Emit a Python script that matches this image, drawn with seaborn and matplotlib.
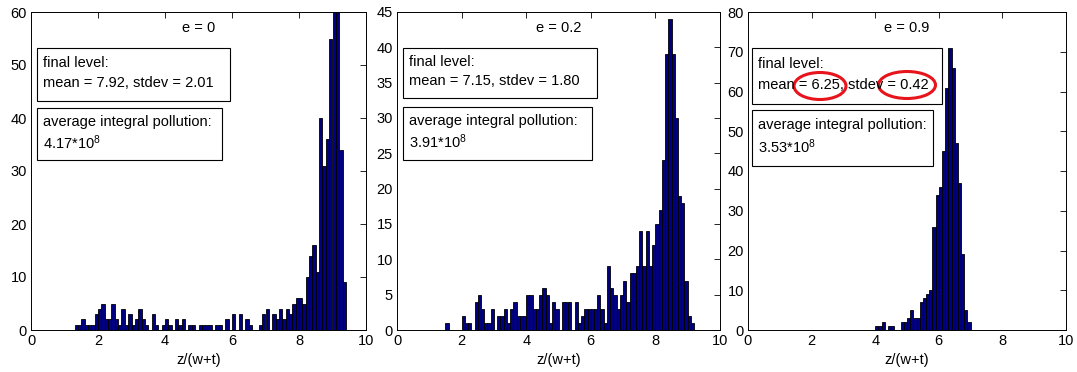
import numpy as np
import pandas as pd
import matplotlib
matplotlib.use("Agg")
import matplotlib.pyplot as plt
from matplotlib.patches import Rectangle, Ellipse
import seaborn as sns

# ---------------- data ----------------
bin_width = 0.1
p1_start = 1.3
p1_counts = [1, 1, 2, 1, 1, 1, 3, 4, 5, 2,
             2, 5, 2, 1, 4, 1, 3, 1, 2, 4,
             2, 1, 0, 3, 1, 0, 1, 2, 1, 0,
             2, 1, 2, 0, 1, 1, 0, 1, 1, 1,
             1, 0, 1, 1, 0, 2, 0, 3, 0, 3,
             0, 2, 1, 0, 0, 1, 3, 4, 0, 3,
             2, 4, 2, 4, 3, 5, 6, 6, 5, 10,
             14, 16, 11, 40, 31, 36, 55, 60, 60, 34,
             9]
p2_start = 1.5
p2_counts = [1, 0, 0, 0, 0, 2, 1, 1, 0, 4,
             5, 3, 1, 1, 3, 0, 2, 2, 3, 1,
             3, 4, 2, 2, 2, 5, 5, 3, 3, 5,
             6, 5, 1, 4, 3, 0, 4, 4, 4, 0,
             4, 1, 2, 3, 3, 3, 3, 5, 3, 1,
             9, 6, 5, 3, 5, 7, 4, 8, 8, 9,
             14, 9, 14, 9, 12, 15, 17, 24, 39, 44,
             39, 30, 19, 18, 7, 2, 1]
p3_start = 4.0
p3_counts = [1, 1, 2, 0, 1, 1, 0, 0, 2, 2,
             3, 5, 3, 3, 7, 8, 9, 10, 26, 34,
             36, 45, 61, 71, 66, 47, 37, 19, 5, 2]

titles = ["e = 0", "e = 0.2", "e = 0.9"]
final_means = ["7.92", "7.15", "6.25"]
final_stdevs = ["2.01", "1.80", "0.42"]
pollution = ["4.17", "3.91", "3.53"]
y_limits = [60, 45, 80]
y_steps = [10, 5, 10]
x_ticks = [0, 2, 4, 6, 8, 10]
x_label = "z/(w+t)"

# ---------------- style ----------------
sns.set_theme(style="white")
plt.rcParams["font.family"] = ["Liberation Sans", "DejaVu Sans"]
plt.rcParams["mathtext.default"] = "regular"
plt.rcParams["text.color"] = "black"

W, H = 1077, 372
fig = plt.figure(figsize=(W / 100, H / 100), dpi=100)

def fx(px):
    return px / W

def fy(py):
    return 1 - py / H

# axes pixel boxes (left, right)
ax_px = [(31, 366), (397, 720), (748, 1066)]
top_px, bot_px = 12, 330

panels = [(p1_start, p1_counts), (p2_start, p2_counts), (p3_start, p3_counts)]

# box layout per panel: (left, right1, top1, bot1, right2, top2, bot2)
boxes = [
    (37, 230, 48, 101, 222, 108, 160),
    (403, 597, 48, 98, 592, 107, 160),
    (752, 942, 48, 104, 933, 110, 166),
]
FS = 10.5
for k, ((l, r), (start, counts)) in enumerate(zip(ax_px, panels)):
    ax = fig.add_axes([fx(l), fy(bot_px), fx(r - l), (bot_px - top_px) / H])
    n = len(counts)
    edges = [round(start + bin_width * i, 4) for i in range(n + 1)]
    centers = [round(e + bin_width / 2, 4) for e in edges[:-1]]
    df = pd.DataFrame({"z": centers, "count": counts})
    sns.histplot(data=df, x="z", weights="count", bins=edges, ax=ax,
                 color="#000080", edgecolor="black", linewidth=0.6, alpha=1.0)
    ax.set_xlim(0, 10)
    ax.set_ylim(0, y_limits[k])
    ax.set_xticks(x_ticks)
    ax.set_yticks(np.arange(0, y_limits[k] + 1, y_steps[k]))
    ax.set_xlabel("")
    ax.set_ylabel("")
    ax.tick_params(direction="in", length=4, width=0.6, top=True, right=True,
                   labelsize=FS, colors="black", pad=3)
    for s in ax.spines.values():
        s.set_color("black")
        s.set_linewidth(0.7)
    ax.grid(False)

    cx = (l + r) / 2
    fig.text(fx(cx), fy(28), titles[k], ha="center", va="center", fontsize=FS, color="black")
    fig.text(fx(cx), fy(360), x_label, ha="center", va="center", fontsize=FS, color="black")

    bl, br1, bt1, bb1, br2, bt2, bb2 = boxes[k]
    fig.add_artist(Rectangle((fx(bl), fy(bb1)), fx(br1 - bl), (bb1 - bt1) / H,
                             transform=fig.transFigure, fill=True, facecolor="white",
                             edgecolor="black", linewidth=0.8))
    fig.add_artist(Rectangle((fx(bl), fy(bb2)), fx(br2 - bl), (bb2 - bt2) / H,
                             transform=fig.transFigure, fill=True, facecolor="white",
                             edgecolor="black", linewidth=0.8))
    h1 = bb1 - bt1
    fig.text(fx(bl + 6), fy(bt1 + h1 * 0.28), "final level:", ha="left", va="center",
             fontsize=FS, color="black")
    fig.text(fx(bl + 6), fy(bt1 + h1 * 0.66),
             f"mean = {final_means[k]}, stdev = {final_stdevs[k]}",
             ha="left", va="center", fontsize=FS, color="black")
    h2 = bb2 - bt2
    fig.text(fx(bl + 6), fy(bt2 + h2 * 0.27), "average integral pollution:",
             ha="left", va="center", fontsize=FS, color="black")
    fig.text(fx(bl + 6), fy(bt2 + h2 * 0.66), pollution[k] + "*10$^{8}$",
             ha="left", va="center", fontsize=FS, color="black")

# red highlight ellipses on third panel
for (cx, cy, w, h) in [(820, 86, 52, 27), (907, 85, 57, 27)]:
    fig.add_artist(Ellipse((fx(cx), fy(cy)), w / W, h / H, transform=fig.transFigure,
                           fill=False, edgecolor="#e8141b", linewidth=2.2))

fig.savefig("out.png", dpi=100)
